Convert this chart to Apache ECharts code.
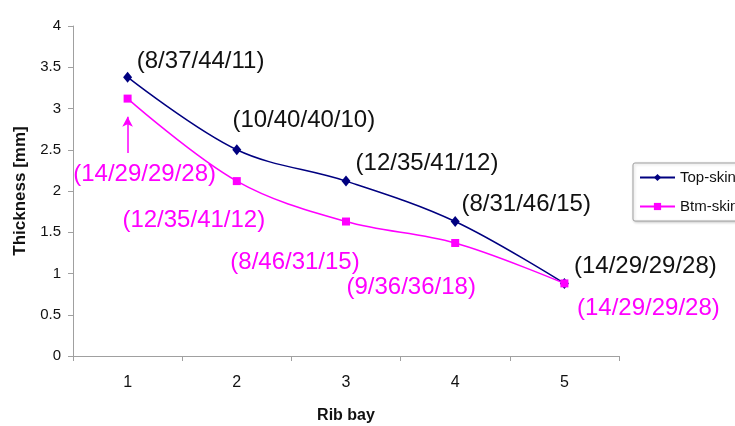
<!DOCTYPE html>
<html>
<head>
<meta charset="utf-8">
<script src="https://cdn.jsdelivr.net/npm/echarts@6/dist/echarts.min.js"></script>
<style>
  html, body { margin: 0; padding: 0; background: #fff; }
  #chart { width: 735px; height: 426px; }
</style>
</head>
<body>
<div id="chart"></div>
<script>
// Rib bays along the span
const ribBays = ['1', '2', '3', '4', '5'];

// Skin thickness per rib bay [mm]
const topSkin = [3.38, 2.50, 2.12, 1.63, 0.88];
const btmSkin = [3.12, 2.12, 1.63, 1.37, 0.88];

// Ply percentages (0/45/-45/90) for each bay
const topLayup = ['(8/37/44/11)', '(10/40/40/10)', '(12/35/41/12)', '(8/31/46/15)', '(14/29/29/28)'];
const btmLayup = ['(14/29/29/28)', '(12/35/41/12)', '(8/46/31/15)', '(9/36/36/18)', '(14/29/29/28)'];

// Pointer arrow under the first bottom-skin point (thickness values)
const pointerFrom = 2.46;
const pointerTo = 2.90;

// Label placement: pixel shift of each label centre from its point
const topLabelShift = [[73, -16], [67, -29], [81, -18], [71, -17], [81, -17]];
const btmLabelShift = [[17, 76], [-43, 39], [-51, 41], [-44, 44], [84, 25]];

const FONT = '"Liberation Sans", Arial, sans-serif';
const NAVY = '#000080';
const MAGENTA = '#ff00ff';
const INK = '#111111';

function withLabels(values, texts, shifts) {
  return values.map((v, i) => ({
    value: v,
    label: { formatter: texts[i], offset: shifts[i] }
  }));
}

const chart = echarts.init(document.getElementById('chart'), null, { renderer: 'canvas' });

chart.setOption({
  animation: false,
  backgroundColor: '#ffffff',
  textStyle: { fontFamily: FONT },
  grid: { left: 73, right: 116, top: 26, bottom: 70, containLabel: false, outerBoundsMode: 'none' },
  legend: {
    orient: 'vertical',
    left: 633,
    top: 163,
    padding: [7, 30, 7, 6],
    itemGap: 14,
    itemWidth: 35,
    itemHeight: 9,
    borderColor: '#a0a0a0',
    borderWidth: 1,
    borderRadius: 2,
    backgroundColor: '#ffffff',
    shadowColor: 'rgba(0,0,0,0.2)',
    shadowBlur: 3,
    shadowOffsetX: 1,
    shadowOffsetY: 1,
    textStyle: { fontFamily: FONT, fontSize: 15, color: INK, lineHeight: 14 },
    data: ['Top-skin', 'Btm-skin']
  },
  xAxis: {
    type: 'category',
    data: ribBays,
    boundaryGap: true,
    name: 'Rib bay',
    nameLocation: 'middle',
    nameGap: 52,
    nameTextStyle: { fontFamily: FONT, fontSize: 16, fontWeight: 'bold', color: INK },
    axisLine: { lineStyle: { color: '#a0a0a0', width: 1 } },
    axisTick: { show: true, alignWithLabel: false, length: 5, lineStyle: { color: '#a0a0a0' } },
    axisLabel: { fontFamily: FONT, fontSize: 16, color: INK, margin: 19 },
    splitLine: { show: false }
  },
  yAxis: {
    type: 'value',
    min: 0,
    max: 4,
    interval: 0.5,
    name: 'Thickness [mm]',
    nameLocation: 'middle',
    nameGap: 44,
    nameTextStyle: { fontFamily: FONT, fontSize: 17, fontWeight: 'bold', color: INK },
    axisLine: { show: true, lineStyle: { color: '#a0a0a0', width: 1 } },
    axisTick: { show: true, length: 5, lineStyle: { color: '#a0a0a0' } },
    axisLabel: { fontFamily: FONT, fontSize: 15, color: INK, margin: 12 },
    splitLine: { show: false }
  },
  series: [
    {
      name: 'Top-skin',
      type: 'line',
      smooth: 0.35,
      symbol: 'diamond',
      symbolSize: [9, 11],
      color: NAVY,
      lineStyle: { color: NAVY, width: 1.5 },
      itemStyle: { color: NAVY },
      label: {
        show: true,
        position: 'inside',
        align: 'center',
        verticalAlign: 'middle',
        fontFamily: FONT,
        fontSize: 24,
        color: INK,
        textBorderWidth: 0
      },
      data: withLabels(topSkin, topLayup, topLabelShift)
    },
    {
      name: 'Btm-skin',
      type: 'line',
      smooth: 0.35,
      symbol: 'rect',
      symbolSize: 8,
      color: MAGENTA,
      lineStyle: { color: MAGENTA, width: 1.5 },
      itemStyle: { color: MAGENTA },
      label: {
        show: true,
        position: 'inside',
        align: 'center',
        verticalAlign: 'middle',
        fontFamily: FONT,
        fontSize: 24,
        color: MAGENTA,
        textBorderWidth: 0
      },
      data: withLabels(btmSkin, btmLayup, btmLabelShift),
      markLine: {
        silent: true,
        animation: false,
        symbol: ['none', 'arrow'],
        symbolSize: [8, 10],
        label: { show: false },
        lineStyle: { color: MAGENTA, width: 1.5, type: 'solid' },
        data: [[
          { coord: [ribBays[0], pointerFrom] },
          { coord: [ribBays[0], pointerTo] }
        ]]
      }
    }
  ]
});
</script>
</body>
</html>
